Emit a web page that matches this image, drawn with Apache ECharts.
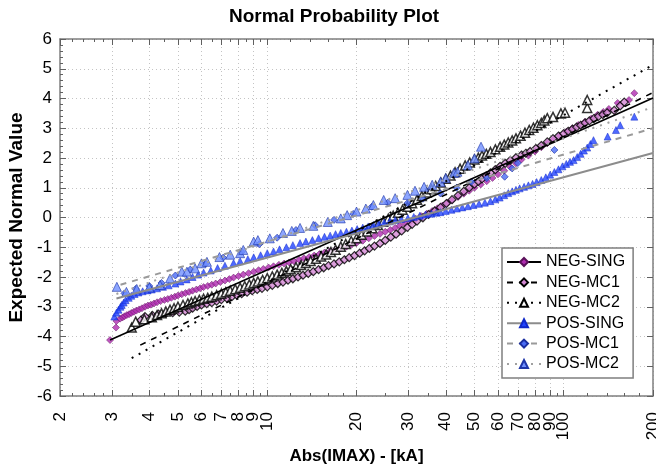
<!DOCTYPE html>
<html><head><meta charset="utf-8">
<script src="https://cdn.jsdelivr.net/npm/echarts@6/dist/echarts.min.js"></script>
<style>html,body{margin:0;padding:0;background:#fff}#c{width:656px;height:468px}</style>
</head><body><div id="c"></div>
<script>
const xMajorTicks = [2,3,4,5,6,7,8,9,10,20,30,40,50,60,70,80,90,100,200];
const xMinorTicks = [2.2,2.4,2.6,2.8,3.5,4.5,5.5,6.5,7.5,8.5,9.5,12,14,16,18,25,35,45,55,65,75,85,95,120,140,160,180];
const seriesNames = ['NEG-SING','NEG-MC1','NEG-MC2','POS-SING','POS-MC1','POS-MC2'];

const negSing = [[2.95,-4.12],[3.09,-3.70],[3.1,-3.48],[3.19,-3.40],[3.25,-3.36],[3.3,-3.32],[3.36,-3.28],[3.42,-3.25],[3.48,-3.21],[3.55,-3.17],[3.62,-3.13],[3.7,-3.09],[3.78,-3.05],[3.87,-3.0],[3.96,-2.96],[4.05,-2.93],[4.15,-2.89],[4.25,-2.85],[4.37,-2.81],[4.5,-2.77],[4.62,-2.74],[4.75,-2.7],[4.88,-2.66],[5.0,-2.62],[5.15,-2.58],[5.3,-2.54],[5.45,-2.5],[5.6,-2.46],[5.77,-2.42],[5.94,-2.38],[6.1,-2.34],[6.3,-2.3],[6.5,-2.26],[6.7,-2.22],[6.95,-2.17],[7.2,-2.12],[7.45,-2.07],[7.7,-2.02],[8.0,-1.97],[8.3,-1.92],[8.65,-1.87],[9.0,-1.82],[9.35,-1.77],[9.7,-1.73],[10.1,-1.68],[10.5,-1.64],[10.95,-1.59],[11.4,-1.55],[11.85,-1.51],[12.3,-1.47],[12.8,-1.42],[13.3,-1.37],[13.85,-1.33],[14.4,-1.28],[15.0,-1.23],[15.6,-1.18],[16.3,-1.13],[17,-1.08],[17.7,-1.03],[18.5,-0.98],[19.2,-0.92],[20,-0.86],[21,-0.78],[22,-0.7],[23,-0.62],[24,-0.55],[25,-0.48],[26,-0.42],[27,-0.35],[28,-0.28],[29.2,-0.2],[30.5,-0.12],[31.7,-0.04],[33,0.05],[34.5,0.13],[36,0.22],[37.5,0.31],[39,0.4],[40.5,0.49],[42,0.58],[44,0.69],[46,0.8],[48,0.9],[50,1.0],[52.5,1.11],[55,1.22],[57.5,1.33],[60,1.45],[63,1.57],[66,1.7],[69,1.82],[72,1.95],[76,2.08],[80,2.22],[84,2.36],[88,2.5],[92.5,2.62],[97,2.75],[102,2.88],[107,3.0],[112,3.11],[118,3.22],[124,3.33],[130,3.45],[136,3.55],[142,3.65],[152,3.85],[166,3.95],[173,4.18]];
const negMc1 = [[3.75,-3.45],[3.87,-3.33],[4.1,-3.29],[4.3,-3.25],[4.55,-3.22],[4.8,-3.2],[5.05,-3.18],[5.29,-3.15],[5.45,-3.1],[5.6,-3.05],[5.8,-2.99],[6.0,-2.94],[6.25,-2.9],[6.5,-2.86],[6.75,-2.81],[7.0,-2.76],[7.3,-2.71],[7.6,-2.66],[7.9,-2.61],[8.2,-2.56],[8.55,-2.51],[8.9,-2.46],[9.25,-2.42],[9.6,-2.38],[10.0,-2.33],[10.4,-2.28],[10.85,-2.22],[11.3,-2.17],[11.75,-2.11],[12.2,-2.06],[12.7,-2.0],[13.2,-1.94],[13.75,-1.88],[14.3,-1.82],[14.9,-1.75],[15.5,-1.69],[16.1,-1.62],[16.8,-1.56],[17.5,-1.49],[18.2,-1.42],[18.9,-1.35],[19.7,-1.28],[20.5,-1.2],[21.3,-1.12],[22.1,-1.04],[23,-0.96],[24,-0.87],[25,-0.77],[26.1,-0.66],[27.2,-0.56],[28.4,-0.45],[29.7,-0.33],[30.8,-0.23],[32,-0.12],[33.5,-0.01],[35,0.1],[36.7,0.22],[38.4,0.34],[40.2,0.47],[42,0.6],[44,0.74],[46,0.88],[48,1.0],[50,1.12],[51.5,1.21],[53,1.3],[54.8,1.4],[56.6,1.5],[58.8,1.61],[61,1.72],[63.5,1.82],[66,1.92],[69,2.01],[72,2.1],[74.5,2.16],[77,2.22],[80.5,2.32],[84,2.42],[88,2.54],[92,2.65],[96,2.74],[100,2.82],[103.5,2.9],[107,2.97],[110.5,3.04],[114,3.1],[118,3.18],[122,3.25],[126.5,3.33],[131,3.4],[135.5,3.46],[140,3.52],[148,3.6],[155,3.75],[160,3.88]];
const negMc2 = [[3.49,-3.7],[3.6,-3.5],[3.85,-3.42],[4.08,-3.35],[4.25,-3.28],[4.4,-3.22],[4.55,-3.16],[4.7,-3.1],[4.85,-3.05],[5.0,-3.0],[5.2,-2.94],[5.4,-2.89],[5.55,-2.85],[5.71,-2.81],[5.9,-2.77],[6.1,-2.73],[6.3,-2.7],[6.5,-2.66],[6.75,-2.61],[7.0,-2.56],[7.25,-2.51],[7.5,-2.46],[7.8,-2.41],[8.1,-2.36],[8.4,-2.31],[8.7,-2.25],[9.0,-2.2],[9.3,-2.15],[9.65,-2.1],[10,-2.04],[10.4,-1.98],[10.8,-1.92],[11.2,-1.86],[11.6,-1.8],[12.0,-1.74],[12.5,-1.67],[13.0,-1.6],[13.5,-1.53],[14.0,-1.46],[14.6,-1.39],[15.2,-1.31],[15.8,-1.24],[16.4,-1.16],[17.0,-1.08],[17.7,-0.98],[18.4,-0.89],[19.2,-0.79],[20,-0.7],[20.8,-0.58],[21.7,-0.47],[22.6,-0.36],[23.6,-0.25],[24.6,-0.14],[25.6,-0.04],[26.6,0.06],[27.6,0.16],[28.6,0.26],[29.7,0.36],[30.8,0.48],[32,0.6],[33.2,0.72],[34.5,0.84],[35.8,0.95],[37,1.06],[38.5,1.18],[40,1.3],[41.5,1.41],[43,1.52],[44.7,1.64],[46.5,1.75],[48.2,1.85],[50,1.95],[51.5,2.01],[53,2.08],[54.8,2.14],[56.6,2.2],[58.8,2.29],[61,2.38],[63,2.45],[65,2.52],[67,2.59],[69,2.66],[71.5,2.75],[74,2.85],[76.5,2.94],[79,3.02],[81.5,3.1],[84,3.18],[86,3.26],[88,3.34],[92,3.38],[97.8,3.5],[101,3.52],[120,3.68],[120,3.95]];
const posSing = [[3.05,-3.33],[3.1,-3.2],[3.15,-3.1],[3.2,-3.0],[3.23,-2.94],[3.28,-2.86],[3.33,-2.78],[3.41,-2.7],[3.48,-2.63],[3.57,-2.57],[3.68,-2.52],[3.8,-2.48],[3.95,-2.45],[4.08,-2.42],[4.25,-2.38],[4.45,-2.33],[4.65,-2.28],[4.9,-2.22],[5.1,-2.15],[5.35,-2.08],[5.6,-2.0],[5.85,-1.92],[6.1,-1.85],[6.45,-1.78],[6.8,-1.7],[7.2,-1.62],[7.7,-1.53],[8.1,-1.47],[8.6,-1.4],[9.0,-1.34],[9.5,-1.27],[10,-1.2],[10.5,-1.14],[11.0,-1.07],[11.6,-1.0],[12.2,-0.93],[12.9,-0.86],[13.5,-0.81],[14.2,-0.76],[14.9,-0.7],[15.6,-0.65],[16.3,-0.61],[17.0,-0.56],[17.7,-0.52],[18.5,-0.48],[19.3,-0.44],[20.1,-0.39],[21.0,-0.34],[21.9,-0.3],[22.8,-0.25],[23.8,-0.21],[24.8,-0.17],[25.9,-0.13],[27.0,-0.09],[28.3,-0.05],[29.8,-0.02],[31.2,0.02],[32.7,0.06],[34.2,0.1],[35.8,0.13],[37.2,0.16],[38.4,0.18],[40.0,0.22],[41.8,0.26],[43.6,0.3],[45.5,0.34],[47.5,0.38],[49.6,0.42],[51.8,0.46],[54.2,0.5],[56.6,0.55],[58.8,0.61],[60.8,0.67],[63,0.75],[65,0.82],[67,0.88],[69,0.93],[71,0.98],[73.5,1.03],[76,1.08],[78.5,1.13],[81,1.19],[84,1.26],[87,1.35],[90,1.44],[93,1.53],[96,1.62],[99,1.72],[102,1.8],[105,1.87],[108,1.93],[111,2.03],[114,2.14],[117,2.25],[120,2.35],[123,2.47],[126,2.6],[140.6,2.72],[150,2.94],[155,3.1],[173,3.39]];
const posMc1 = [[3.3,-2.55],[3.6,-2.4],[4.0,-2.3],[4.4,-2.2],[4.9,-1.95],[5.5,-1.75],[6.2,-1.55],[7.1,-1.35],[8.2,-1.15],[9.4,-0.9],[10.8,-0.68],[12.5,-0.42],[14.5,-0.26],[16.8,-0.08],[19.5,0.12],[22.5,0.36],[25.5,0.5],[29.7,0.48],[33.5,0.63],[38.4,0.81],[43.5,1.0],[48.8,1.2],[55,1.32],[63.2,1.37],[67,1.65],[70,1.83],[93,2.27]];
const posMc2 = [[3.11,-2.33],[3.35,-2.5],[3.63,-2.4],[4.0,-2.35],[4.35,-2.27],[4.7,-2.05],[5.15,-1.82],[5.36,-1.82],[5.71,-1.71],[6.0,-1.54],[6.26,-1.49],[6.9,-1.33],[7.5,-1.25],[8.1,-1.2],[8.3,-1.09],[9.0,-0.81],[9.3,-0.76],[10.2,-0.7],[11.3,-0.52],[12.1,-0.45],[12.9,-0.35],[14.3,-0.28],[16,-0.15],[17.7,-0.03],[18.6,0.08],[20,0.2],[21.5,0.3],[22.8,0.42],[24.7,0.59],[27,0.65],[29.7,0.76],[31.5,0.9],[33.8,1.03],[36,1.1],[38.4,1.2],[40,1.33],[42.6,1.5],[43.8,1.54],[47.5,1.76],[50,1.99],[52.6,2.38]];

const negSingFit = [[2.95,-4.12],[200,4.02]];
const negMc1Fit = [[3.73,-4.29],[200,4.2]];
const negMc2Fit = [[3.49,-4.73],[200,5.13]];
const posSingFit = [[3.1,-2.72],[200,2.17]];
const posMc1Fit = [[3.2,-2.26],[200,3.0]];
const posMc2Fit = [[3.1,-2.57],[200,3.71]];

const pointSets = [negSing, negMc1, negMc2, posSing, posMc1, posMc2];
const fitSets = [negSingFit, negMc1Fit, negMc2Fit, posSingFit, posMc1Fit, posMc2Fit];

const FONT = "'Liberation Sans', Arial, sans-serif";
const markStyles = [
  {symbol:'diamond', size:7, item:{color:'#b02cb0', borderColor:'#5a105a', borderWidth:0.6}},
  {symbol:'diamond', size:8, item:{color:'#d488d4', borderColor:'#000000', borderWidth:1.2}},
  {symbol:'triangle', size:9, item:{color:'#ffffff', borderColor:'#000000', borderWidth:1.5}},
  {symbol:'triangle', size:7, item:{color:'#2244ff', borderColor:'#1028c8', borderWidth:0.6}},
  {symbol:'diamond', size:7, item:{color:'#4a6cf5', borderColor:'#1a2ea0', borderWidth:0.8}},
  {symbol:'triangle', size:9, item:{color:'#7090ff', borderColor:'#1e35a8', borderWidth:0.8}}
];
const lineStyles = [
  {color:'#000000', width:1.6, type:'solid'},
  {color:'#000000', width:1.6, type:[6,6]},
  {color:'#000000', width:2, type:[2,6]},
  {color:'#8c8c8c', width:2, type:'solid'},
  {color:'#9a9a9a', width:2, type:[6,6]},
  {color:'#a0a0a0', width:2, type:[2,6]}
];

const series = [];
seriesNames.forEach((n,i)=>{
  series.push({type:'line', name:n, data:fitSets[i], symbol:markStyles[i].symbol, showSymbol:false,
    itemStyle:markStyles[i].item, lineStyle:lineStyles[i], z:4, silent:true, animation:false});
});
seriesNames.forEach((n,i)=>{
  series.push({type:'scatter', name:n, data:pointSets[i], symbol:markStyles[i].symbol, symbolSize:markStyles[i].size,
    itemStyle:markStyles[i].item, z:3, silent:true, animation:false});
});

const axisLineStyle = {color:'#7f7f7f', width:1.5};
const fmt = v => String(Math.round(v*1000)/1000);
const baseX = {type:'log', logBase:10, min:2, max:200, gridIndex:0};

const chart = echarts.init(document.getElementById('c'), null, {renderer:'canvas'});
chart.setOption({
  animation:false,
  backgroundColor:'#ffffff',
  title:{text:'Normal Probability Plot', left:224, top:2,
    textStyle:{fontFamily:FONT, fontSize:19, fontWeight:'bold', color:'#000'}},
  legend:{data:seriesNames, orient:'vertical', left:502, top:248, padding:[6,8,6,4],
    itemWidth:34, itemHeight:10, itemGap:4.4, backgroundColor:'#ffffff', borderColor:'#7f7f7f', borderWidth:1.5,
    textStyle:{fontFamily:FONT, fontSize:16, color:'#000'}, selectedMode:false},
  grid:{left:60, right:3, top:39, bottom:72, containLabel:false, outerBoundsMode:'none'},
  xAxis:[
    Object.assign({}, baseX, {position:'bottom',
      name:'Abs(IMAX) - [kA]', nameLocation:'middle', nameGap:50,
      nameTextStyle:{fontFamily:FONT, fontSize:17, fontWeight:'bold', color:'#000'},
      axisLine:{show:true, onZero:false, lineStyle:axisLineStyle},
      axisTick:{show:true, inside:true, length:6, customValues:xMajorTicks, lineStyle:{color:'#606060'}},
      axisLabel:{show:true, customValues:xMajorTicks, rotate:90, margin:16, fontFamily:FONT, fontSize:17, color:'#000', formatter:fmt},
      splitLine:{show:true, lineStyle:{color:'#c4c4c4', type:[1,3], width:1}}}),
    Object.assign({}, baseX, {position:'bottom',
      axisLine:{show:false, onZero:false},
      axisTick:{show:true, inside:true, length:3, customValues:xMinorTicks, lineStyle:{color:'#606060'}},
      axisLabel:{show:false}, splitLine:{show:false}}),
    Object.assign({}, baseX, {position:'top',
      axisLine:{show:true, onZero:false, lineStyle:axisLineStyle},
      axisTick:{show:true, inside:true, length:6, customValues:xMajorTicks, lineStyle:{color:'#606060'}},
      axisLabel:{show:false}, splitLine:{show:false}}),
    Object.assign({}, baseX, {position:'top',
      axisLine:{show:false, onZero:false},
      axisTick:{show:true, inside:true, length:3, customValues:xMinorTicks, lineStyle:{color:'#606060'}},
      axisLabel:{show:false}, splitLine:{show:false}})
  ],
  yAxis:[
    {type:'value', min:-6, max:6, interval:1, position:'left',
      name:'Expected Normal Value', nameLocation:'middle', nameGap:33,
      nameTextStyle:{fontFamily:FONT, fontSize:19, fontWeight:'bold', color:'#000'},
      axisLine:{show:true, onZero:false, lineStyle:axisLineStyle},
      axisTick:{show:true, inside:true, length:6, lineStyle:{color:'#606060'}},
      minorTick:{show:true, splitNumber:5, length:3, lineStyle:{color:'#606060'}},
      axisLabel:{fontFamily:FONT, fontSize:17, color:'#000', margin:8},
      splitLine:{show:true, lineStyle:{color:'#c4c4c4', type:[1,3], width:1}}},
    {type:'value', min:-6, max:6, interval:1, position:'right',
      axisLine:{show:true, onZero:false, lineStyle:axisLineStyle},
      axisTick:{show:true, inside:true, length:6, lineStyle:{color:'#606060'}},
      axisLabel:{show:false}, splitLine:{show:false}}
  ],
  series: series
});
</script></body></html>
